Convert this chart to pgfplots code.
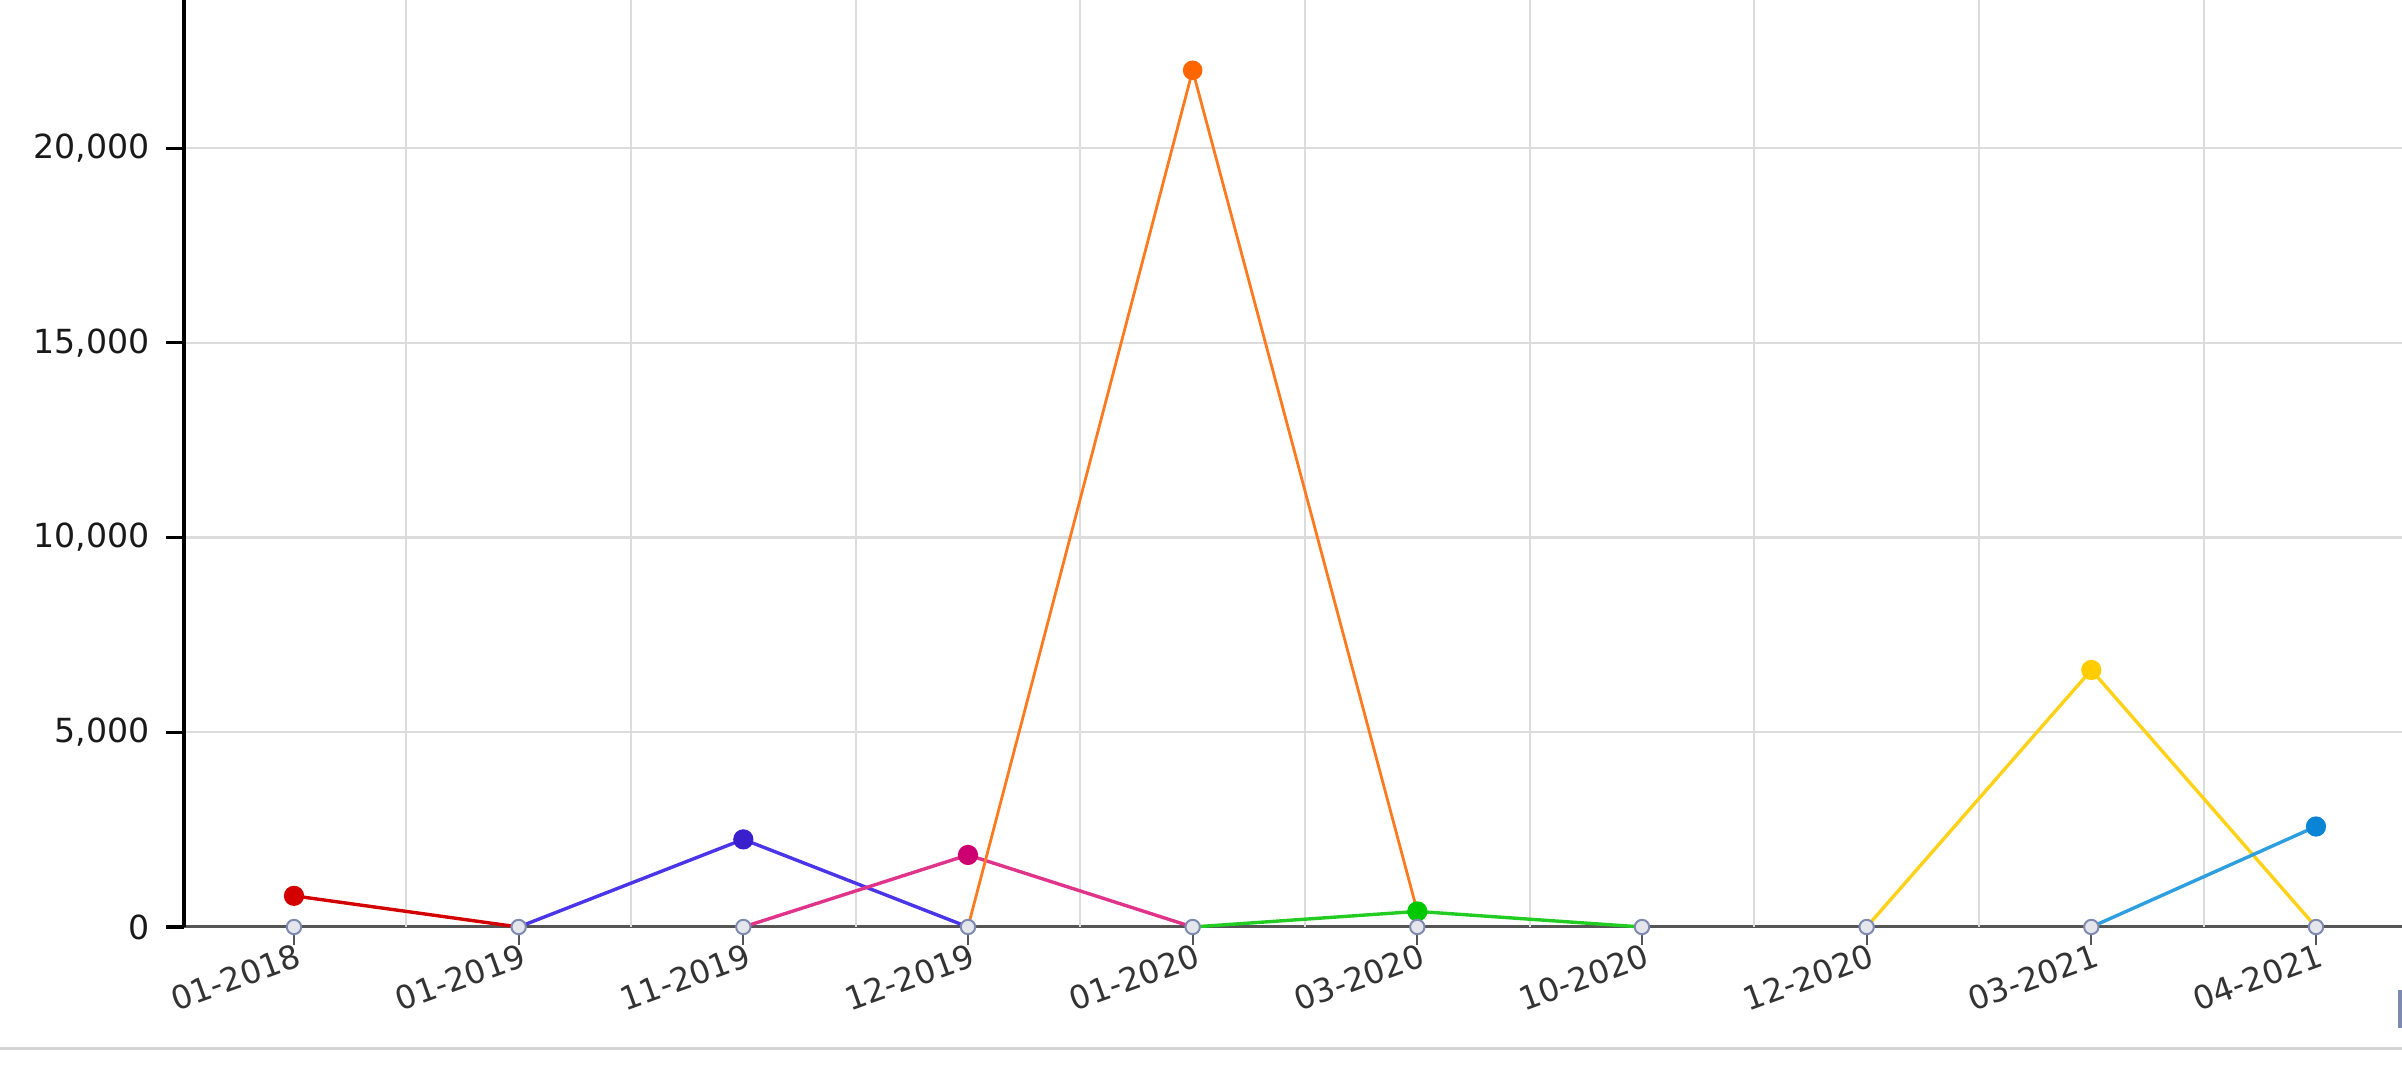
\documentclass[border=0pt]{standalone}
\usepackage{pgfplots}
\pgfplotsset{compat=1.18}
\usepackage{fontspec}
\setmainfont{DejaVu Sans}
\definecolor{cred}{HTML}{D40000}
\definecolor{cblue}{HTML}{4A35E8}
\definecolor{cbluedot}{HTML}{3A1FCC}
\definecolor{cpink}{HTML}{E0338A}
\definecolor{cpinkdot}{HTML}{CC0070}
\definecolor{corange}{HTML}{FF7A1F}
\definecolor{corangedot}{HTML}{FF6600}
\definecolor{cgreen}{HTML}{22CC22}
\definecolor{cgreendot}{HTML}{00C800}
\definecolor{cyellow}{HTML}{FFD21A}
\definecolor{cyellowdot}{HTML}{FFCC00}
\definecolor{clblue}{HTML}{2E9FDE}
\definecolor{clbluedot}{HTML}{0A84D4}
\definecolor{cgrid}{HTML}{DCDCDC}
\definecolor{caxis}{HTML}{555555}
\definecolor{chfill}{HTML}{E4E6EC}
\definecolor{chdraw}{HTML}{7F8AB0}
\begin{document}
\begin{tikzpicture}[x=1pt,y=1pt]
\begin{scope}
\clip (-46,-38.25) rectangle (554.5,231.75);
\begin{axis}[
  at={(0,0)}, anchor=south west,
  scale only axis, width=554.5pt, height=231.75pt,
  xmin=-0.4896, xmax=9.383, ymin=0, ymax=23806,
  clip=false,
  axis lines*=left,
  x axis line style={color=caxis, line width=0.75pt},
  y axis line style={color=black, line width=0.8pt},
  tick align=outside,
  major tick length=4.4pt,
  xtick={0,...,9},
  xticklabels={01-2018,01-2019,11-2019,12-2019,01-2020,03-2020,10-2020,12-2020,03-2021,04-2021},
  xtick style={color=caxis, line width=0.5pt},
  ytick style={color=black, line width=0.8pt},
  ytick={0,5000,10000,15000,20000},
  scaled y ticks=false,
  ymajorgrids,
  grid style={color=cgrid, line width=0.55pt},
  extra x ticks={0.5,1.5,2.5,3.5,4.5,5.5,6.5,7.5,8.5},
  extra x tick labels={},
  extra x tick style={grid=major, major tick length=0pt},
  /pgf/number format/.cd, 1000 sep={,}, assume math mode=true,
  /pgfplots/.cd,
  xticklabel style={font=\fontsize{8.1}{9.6}\selectfont, color=black!80, rotate=20, anchor=north east, inner sep=0pt, yshift=0.5pt, xshift=0.6pt},
  yticklabel style={font=\fontsize{8.3}{9.6}\selectfont, color=black!90, xshift=-0.6pt},
  every axis plot/.append style={line width=0.85pt},
]
\addplot[color=cred, mark=*, mark size=2.1pt, mark indices={1}, mark options={fill=cred, draw=cred}] coordinates {(0,800) (1,0)};
\addplot[color=cblue, mark=*, mark size=2.1pt, mark indices={2}, mark options={fill=cbluedot, draw=cbluedot}] coordinates {(1,0) (2,2250) (3,0)};
\addplot[color=cpink, mark=*, mark size=2.1pt, mark indices={2}, mark options={fill=cpinkdot, draw=cpinkdot}] coordinates {(2,0) (3,1850) (4,0)};
\addplot[color=corange, line width=0.7pt, mark=*, mark size=2.1pt, mark indices={2}, mark options={fill=corangedot, draw=corangedot}] coordinates {(3,0) (4,22000) (5,400)};
\addplot[color=cgreen, mark=*, mark size=2.1pt, mark indices={2}, mark options={fill=cgreendot, draw=cgreendot}] coordinates {(4,0) (5,400) (6,0)};
\addplot[color=cyellow, mark=*, mark size=2.1pt, mark indices={2}, mark options={fill=cyellowdot, draw=cyellowdot}] coordinates {(7,0) (8,6600) (9,0)};
\addplot[color=clblue, mark=*, mark size=2.1pt, mark indices={2}, mark options={fill=clbluedot, draw=clbluedot}] coordinates {(8,0) (9,2580)};
\addplot[only marks, mark=*, mark size=1.8pt, mark options={fill=chfill, draw=chdraw, line width=0.5pt}] coordinates {(0,0) (1,0) (2,0) (3,0) (4,0) (5,0) (6,0) (7,0) (8,0) (9,0)};
\end{axis}
\draw[color=black!17, line width=0.75pt] (-46,-30.5) -- (554.5,-30.5);
\fill[color=chdraw] (553.6,-15.75) rectangle (554.5,-25.25);
\end{scope}
\pgfresetboundingbox
\useasboundingbox (-46,-38.25) rectangle (554.5,231.75);
\end{tikzpicture}
\end{document}
